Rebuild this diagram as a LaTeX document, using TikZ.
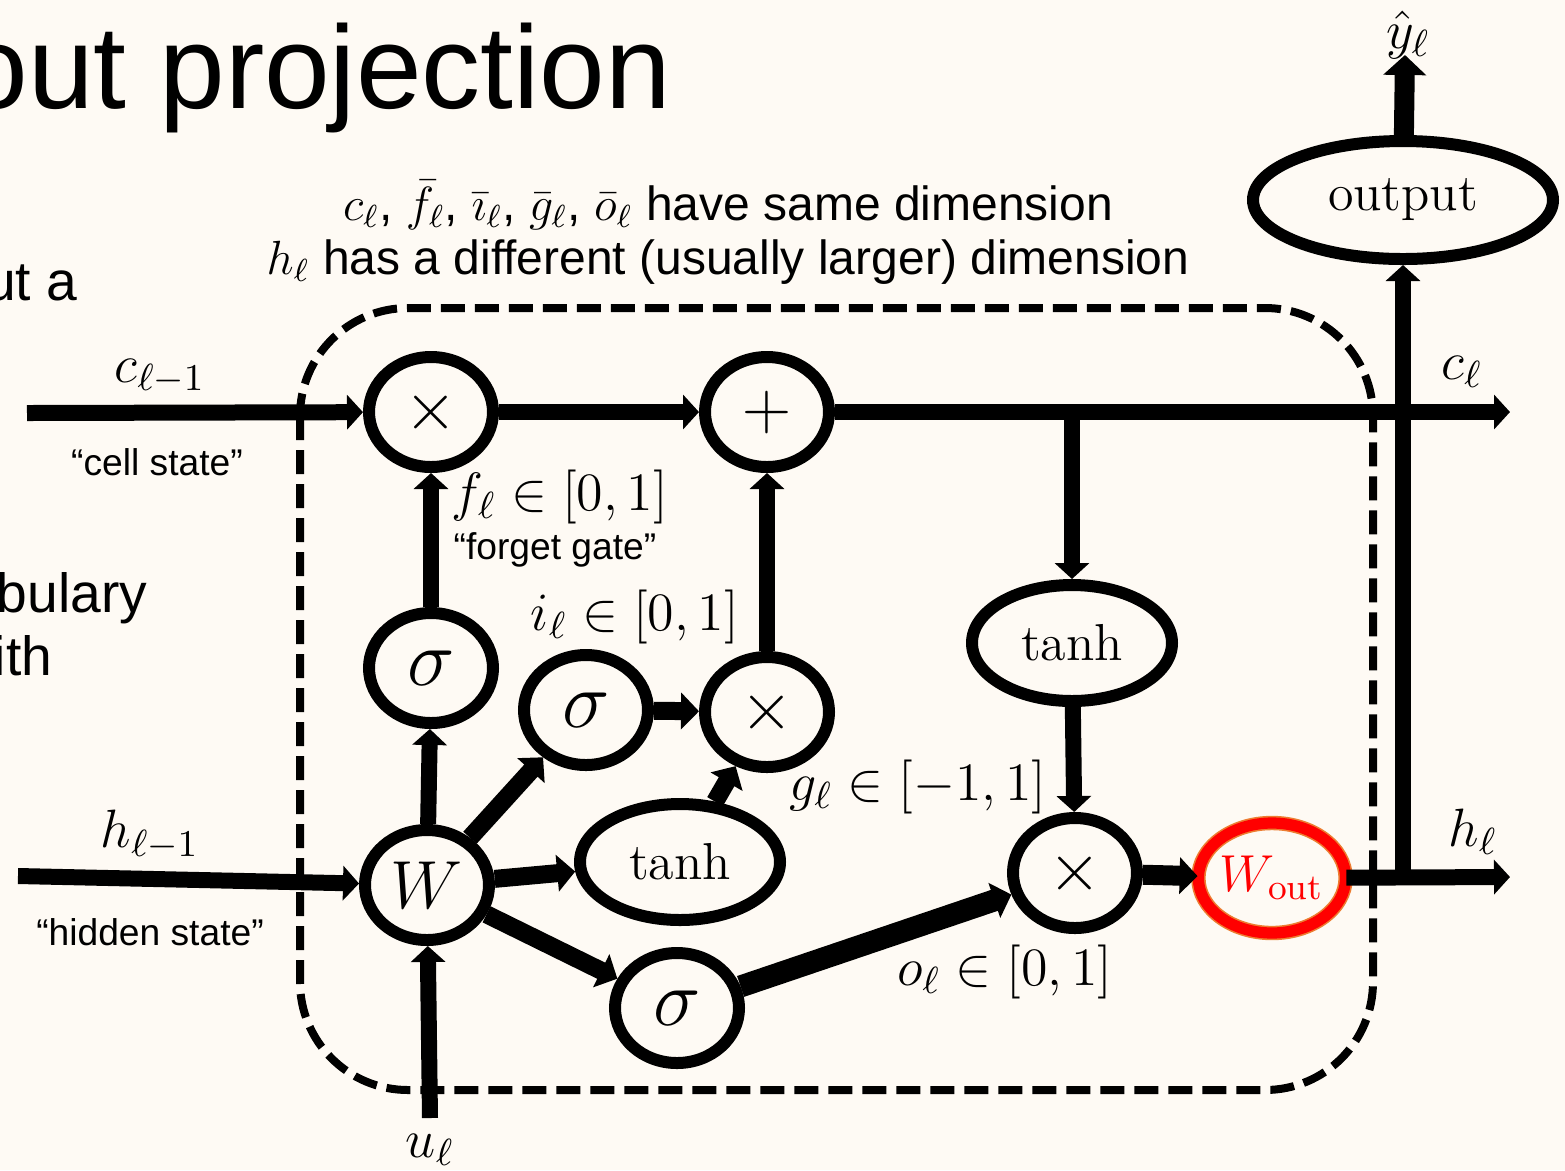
\documentclass[tikz,border=0pt]{standalone}
\usepackage{fix-cm}
\usepackage{amsmath}
\usepackage{fontspec}
\newfontfamily\arialfont{Liberation Sans}
\usetikzlibrary{arrows.meta,positioning,shapes.geometric}
\definecolor{slidebg}{HTML}{FEFAF4}
\definecolor{woutred}{HTML}{FF0000}
\definecolor{woutorange}{HTML}{ED7D31}
\tikzset{
op/.style={draw,ellipse,line width=3pt,minimum width=31pt,minimum height=27.5pt,inner sep=0pt,font=\fontsize{13}{15}\selectfont},
nonlin/.style={op,minimum width=50pt,minimum height=29pt},
gatesym/.style={font=\fontsize{20}{20}\selectfont},
opsym/.style={font=\fontsize{17}{17}\selectfont},
flow/.style={-{Triangle[length=4pt,width=8.5pt]},line width=4pt},
heavy/.style={-{Triangle[length=4.5pt,width=9pt]},line width=4.5pt},
mlabel/.style={inner sep=0pt,font=\fontsize{13.5}{15}\selectfont},
note/.style={inner sep=0pt,font=\arialfont\fontsize{9.3}{11}\selectfont},
headline/.style={inner sep=0pt,font=\arialfont\fontsize{12}{14}\selectfont},
slide/.style={inner sep=0pt,anchor=base east,font=\arialfont\fontsize{13.8}{16}\selectfont}
}
\begin{document}
\begin{tikzpicture}[x=0.25pt,y=-0.25pt]
\fill[slidebg] (0,0) rectangle (1565,1170);
\useasboundingbox (0,0) rectangle (1565,1170);
\clip (0,0) rectangle (1565,1170);
% slide text behind the cell
\node[slide,font=\arialfont\fontsize{29.5}{32}\selectfont] (title) at (672,108) {out projection};
\node[slide] (txta) at (78,300) {ut a};
\node[slide] (txtb) at (148,612) {bulary};
\node[slide] (txtc) at (53,675) {ith};
% dashed cell boundary
\draw[line width=2pt,dash pattern=on 6pt off 2.5pt,rounded corners=27pt] (300,308) rectangle (1373,1090);
% gates and operators
\node[op,opsym] (mulf) at (431,412) {$\times$};
\node[op,opsym] (add) at (767,412) {$+$};
\node[op,gatesym] (sigf) at (431,668) {$\sigma$};
\node[op,gatesym] (sigi) at (586,710) {$\sigma$};
\node[op,opsym] (muli) at (767,712) {$\times$};
\node[nonlin] (tanhg) at (680,862) {$\tanh$};
\node[op,opsym] (W) at (427,885) {$W$};
\node[op,gatesym] (sigo) at (677,1008) {$\sigma$};
\node[nonlin] (tanhc) at (1072,643) {$\tanh$};
\node[op,opsym] (mulo) at (1075,873) {$\times$};
\node[op,draw=woutorange,line width=0.4pt,double=woutred,double distance=2.8pt,text=woutred] (wout) at (1272,878) {$W_{\mathrm{out}}$};
\node[op,minimum width=75pt,minimum height=29.5pt] (output) at (1403,200) {output};
% loose ends
\coordinate (cin) at (27,413);
\coordinate (cout) at (1510,412);
\coordinate (hin) at (18,876);
\coordinate (hout) at (1510,877);
\coordinate (uin) at (430,1118);
\coordinate (yhat) at (1405,55);
% connections
\draw[flow] (cin) -- (mulf);
\draw[flow] (mulf) -- (add);
\draw[flow] (add) -- (cout);
\draw[flow] (tanhc |- add) -- (tanhc);
\draw[flow] (tanhc) -- (mulo);
\draw[heavy,line width=5pt] (mulo) -- (wout);
\draw[flow] (wout) -- (hout);
\draw[flow] (output |- hout) -- (output);
\draw[-{Triangle[length=5pt,width=10.5pt]},line width=5pt] (output) -- (yhat);
\draw[flow] (hin) -- (W);
\draw[flow] (uin) -- (W);
\draw[flow] (W) -- (sigf);
\draw[flow] (sigf) -- (mulf);
\draw[heavy] (W) -- (sigi);
\draw[heavy] (sigi) -- (muli);
\draw[heavy] (W) -- (tanhg);
\draw[heavy] (tanhg) -- (muli);
\draw[heavy] (W) -- (sigo);
\draw[heavy,line width=5.5pt] (sigo) -- (mulo);
\draw[flow] (muli) -- (add);
% labels
\node[mlabel] (clast) at (160,377) {$c_{\ell-1}$};
\node[note] (cellnote) at (157,462) {“cell state”};
\node[mlabel] (hlast) at (150,835) {$h_{\ell-1}$};
\node[note] (hidnote) at (150,932) {“hidden state”};
\node[mlabel] (ulab) at (430,1150) {$u_\ell$};
\node[mlabel] (flab) at (560,497) {$f_\ell\in[0,1]$};
\node[note] (fnote) at (555,550) {“forget gate”};
\node[mlabel] (ilab) at (635,617) {$i_\ell\in[0,1]$};
\node[mlabel] (glab) at (918,787) {$g_\ell\in[-1,1]$};
\node[mlabel] (olab) at (1005,972) {$o_\ell\in[0,1]$};
\node[mlabel] (cnew) at (1462,372) {$c_\ell$};
\node[mlabel] (hnew) at (1473,832) {$h_\ell$};
\node[mlabel] (ylab) at (1408,35) {$\hat y_\ell$};
\node[headline] (dim1) at (728,205) {$c_\ell$, $\bar f_\ell$, $\bar\imath_\ell$, $\bar g_\ell$, $\bar o_\ell$ have same dimension};
\node[headline] (dim2) at (728,262) {$h_\ell$ has a different (usually larger) dimension};
\end{tikzpicture}
\end{document}
